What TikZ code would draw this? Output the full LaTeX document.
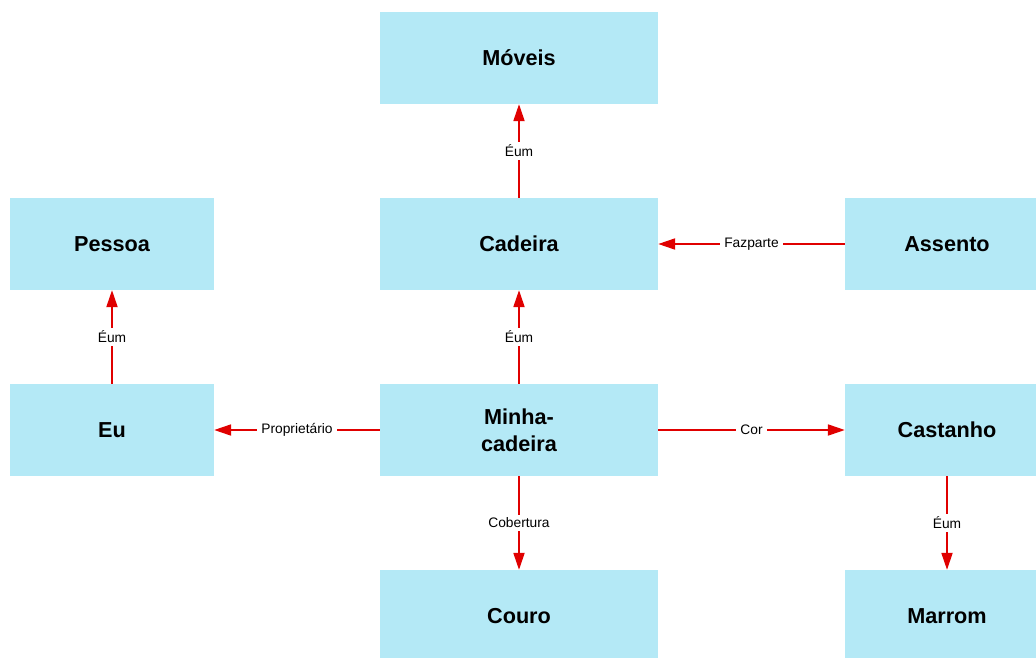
\documentclass[tikz,border=0pt]{standalone}
\usepackage{fontspec}
\setmainfont{Liberation Sans}
\usetikzlibrary{arrows.meta}

\definecolor{boxcyan}{HTML}{B4E9F6}
\definecolor{linkred}{HTML}{E00000}

\begin{document}
\begin{tikzpicture}[
    x=0.025cm, y=-0.025cm,
    box/.style={rectangle, fill=boxcyan, minimum width=6.95cm, minimum height=2.3cm, align=center, font=\fontsize{15.4}{19}\selectfont\bfseries},
    smallbox/.style={box, minimum width=5.1cm},
    link/.style={-{Triangle[length=0.42cm, width=0.28cm]}, draw=linkred, fill=linkred, line width=0.8pt},
    tag/.style={fill=white, inner xsep=3pt, inner ysep=2pt, font=\fontsize{9.8}{11}\selectfont, text=black}
]

% Page frame
\useasboundingbox (0,0) rectangle (1036,657);
\clip (0,0) rectangle (1036,657);

% Middle column
\node[box] (moveis) at (519, 58) {Móveis};
\node[box] (cadeira) at (519, 244) {Cadeira};
\node[box] (minha) at (519, 430) {Minha-\\cadeira};
\node[box] (couro) at (519, 616) {Couro};

% Left column
\node[smallbox] (pessoa) at (112, 244) {Pessoa};
\node[smallbox] (eu) at (112, 430) {Eu};

% Right column
\node[smallbox] (assento) at (947, 244) {Assento};
\node[smallbox] (castanho) at (947, 430) {Castanho};
\node[smallbox] (marrom) at (947, 616) {Marrom};

% Relations
\draw[link] (cadeira.north) -- node[tag] {Éum} (moveis.south);
\draw[link] (minha.north) -- node[tag] {Éum} (cadeira.south);
\draw[link] (eu.north) -- node[tag] {Éum} (pessoa.south);
\draw[link] (assento.west) -- node[tag] {Fazparte} (cadeira.east);
\draw[link] (minha.west) -- node[tag] {Proprietário} (eu.east);
\draw[link] (minha.east) -- node[tag] {Cor} (castanho.west);
\draw[link] (minha.south) -- node[tag] {Cobertura} (couro.north);
\draw[link] (castanho.south) -- node[tag] {Éum} (marrom.north);

\end{tikzpicture}
\end{document}
